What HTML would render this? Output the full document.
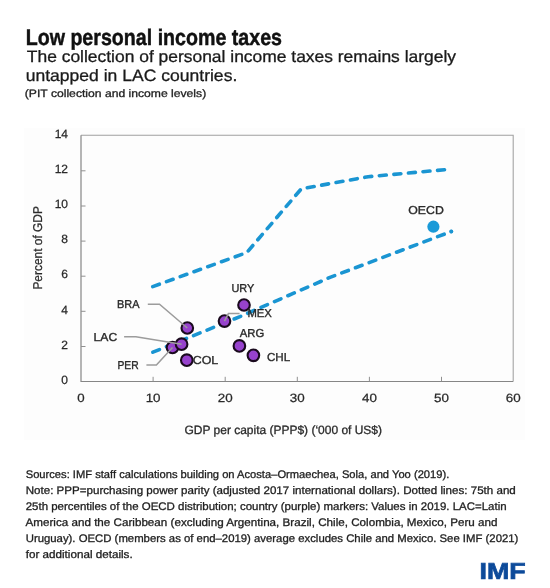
<!DOCTYPE html>
<html><head><meta charset="utf-8">
<style>
html,body{margin:0;padding:0;background:#fff;width:550px;height:588px;overflow:hidden}
svg{display:block;will-change:transform}
text{font-family:"Liberation Sans",sans-serif;text-rendering:geometricPrecision}
</style></head>
<body>
<svg width="550" height="588" viewBox="0 0 550 588">
<rect x="0" y="0" width="550" height="588" fill="#fff"/>
<rect x="24" y="128" width="501" height="312" fill="#fdfdfd"/>
<!-- titles -->
<text x="25.7" y="44.5" font-size="22.6" font-weight="bold" fill="#111" stroke="#111" stroke-width="0.45" textLength="256.3" lengthAdjust="spacingAndGlyphs">Low personal income taxes</text>
<text x="26.8" y="62.1" font-size="16.5" fill="#1a1a1a" stroke="#1a1a1a" stroke-width="0.3" textLength="429.2" lengthAdjust="spacingAndGlyphs">The collection of personal income taxes remains largely</text>
<text x="25.7" y="80.7" font-size="16.5" fill="#1a1a1a" stroke="#1a1a1a" stroke-width="0.3" textLength="211.6" lengthAdjust="spacingAndGlyphs">untapped in LAC countries.</text>
<text x="24.8" y="97.4" font-size="10.8" fill="#222" stroke="#222" stroke-width="0.3" textLength="181.4" lengthAdjust="spacingAndGlyphs">(PIT collection and income levels)</text>

<!-- plot box -->
<path d="M81,135.3 H513.2 V381.5" fill="none" stroke="#a0a0a0" stroke-width="1.05"/>
<path d="M81,135.3 V381.5 H513.2" fill="none" stroke="#868686" stroke-width="1.2"/>
<g stroke="#909090" stroke-width="1">
<line x1="81" y1="170.8" x2="85.5" y2="170.8"/>
<line x1="81" y1="206" x2="85.5" y2="206"/>
<line x1="81" y1="241.1" x2="85.5" y2="241.1"/>
<line x1="81" y1="276.2" x2="85.5" y2="276.2"/>
<line x1="81" y1="311.3" x2="85.5" y2="311.3"/>
<line x1="81" y1="346.5" x2="85.5" y2="346.5"/>
<line x1="153.1" y1="381.3" x2="153.1" y2="376.8"/>
<line x1="225.2" y1="381.3" x2="225.2" y2="376.8"/>
<line x1="297.3" y1="381.3" x2="297.3" y2="376.8"/>
<line x1="369.4" y1="381.3" x2="369.4" y2="376.8"/>
<line x1="441.5" y1="381.3" x2="441.5" y2="376.8"/>
</g>
<g font-size="12" fill="#2a2a2a" stroke="#2a2a2a" stroke-width="0.25" text-anchor="end">
<text x="68" y="137.9">14</text>
<text x="68" y="173.0">12</text>
<text x="68" y="208.2">10</text>
<text x="68" y="243.3">8</text>
<text x="68" y="278.4">6</text>
<text x="68" y="313.5">4</text>
<text x="68" y="348.7">2</text>
<text x="68" y="383.9">0</text>
</g>
<g font-size="12" fill="#2a2a2a" stroke="#2a2a2a" stroke-width="0.25" text-anchor="middle">
<text x="81" y="401.6" textLength="7.4" lengthAdjust="spacingAndGlyphs">0</text>
<text x="153.1" y="401.6" textLength="14.9" lengthAdjust="spacingAndGlyphs">10</text>
<text x="225.2" y="401.6" textLength="14.9" lengthAdjust="spacingAndGlyphs">20</text>
<text x="297.3" y="401.6" textLength="14.9" lengthAdjust="spacingAndGlyphs">30</text>
<text x="369.4" y="401.6" textLength="14.9" lengthAdjust="spacingAndGlyphs">40</text>
<text x="441.5" y="401.6" textLength="14.9" lengthAdjust="spacingAndGlyphs">50</text>
<text x="513.3" y="401.6" textLength="14.9" lengthAdjust="spacingAndGlyphs">60</text>
</g>
<text x="184.5" y="434" font-size="12" fill="#2a2a2a" stroke="#2a2a2a" stroke-width="0.3" textLength="197.5" lengthAdjust="spacingAndGlyphs">GDP per capita (PPP$) (‘000 of US$)</text>
<text transform="translate(42.2,289.6) rotate(-90)" x="0" y="0" font-size="12.8" fill="#2a2a2a" stroke="#2a2a2a" stroke-width="0.25" textLength="83.5" lengthAdjust="spacingAndGlyphs">Percent of GDP</text>

<!-- dashed lines -->
<g fill="none" stroke="#1a95d2" stroke-width="3.6" stroke-linecap="round" stroke-linejoin="round">
<polyline stroke-dasharray="7 7.615" points="152.75,286.6 246.8,252.6 301.3,188.8 368.2,176.7 444.5,169.7"/>
<polyline stroke-dasharray="7 7.634" points="152.9,352.2 240,316.6 330,277.4 451.3,231.5"/>
</g>
<circle cx="451.3" cy="231.5" r="1.95" fill="#1a95d2"/>

<!-- dots -->
<g fill="#9742cd" stroke="#1a0a1e" stroke-width="2.1">
<circle cx="172.5" cy="347.5" r="5.8"/>
<circle cx="181.6" cy="344.2" r="5.8"/>
<circle cx="187.3" cy="328" r="5.8"/>
<circle cx="186.8" cy="360.2" r="5.8"/>
<circle cx="224.5" cy="321.1" r="5.8"/>
<circle cx="244" cy="305" r="5.8"/>
<circle cx="239.4" cy="345.9" r="5.8"/>
<circle cx="253.4" cy="355.3" r="5.8"/>
</g>
<circle cx="433.4" cy="226.7" r="6.1" fill="#1a9ad8"/>

<!-- leader lines -->
<g fill="none" stroke="#9c9c9c" stroke-width="1.5">
<polyline points="147.8,304.3 159.5,304.3 187.3,328"/>
<polyline points="124.1,336.7 135.9,336.7 181.6,344.2"/>
<polyline points="146.4,365 156.4,365 172.5,347.5"/>
<polyline points="239.6,313.6 228.4,313.6 224.5,321.1"/>
</g>

<!-- labels -->
<g font-size="11.5" fill="#2a2a2a" stroke="#2a2a2a" stroke-width="0.35">
<text x="117" y="308.1" textLength="22.5" lengthAdjust="spacingAndGlyphs">BRA</text>
<text x="93.6" y="340.6" textLength="23.6" lengthAdjust="spacingAndGlyphs">LAC</text>
<text x="117.5" y="368.5" textLength="21.2" lengthAdjust="spacingAndGlyphs">PER</text>
<text x="192.7" y="363.7" textLength="25.5" lengthAdjust="spacingAndGlyphs">COL</text>
<text x="231.5" y="292.3" textLength="22.8" lengthAdjust="spacingAndGlyphs">URY</text>
<text x="247.4" y="317.2" textLength="24.5" lengthAdjust="spacingAndGlyphs">MEX</text>
<text x="239.8" y="336.8" textLength="24.5" lengthAdjust="spacingAndGlyphs">ARG</text>
<text x="267" y="360.9" textLength="23.2" lengthAdjust="spacingAndGlyphs">CHL</text>
<text x="408.3" y="213.6" textLength="35.5" lengthAdjust="spacingAndGlyphs">OECD</text>
</g>

<!-- notes -->
<g font-size="11" fill="#1e1e1e" stroke="#1e1e1e" stroke-width="0.3">
<text x="25.7" y="478.3" textLength="423.6" lengthAdjust="spacingAndGlyphs">Sources: IMF staff calculations building on Acosta–Ormaechea, Sola, and Yoo (2019).</text>
<text x="25.7" y="494.3" textLength="490.1" lengthAdjust="spacingAndGlyphs">Note: PPP=purchasing power parity (adjusted 2017 international dollars). Dotted lines: 75th and</text>
<text x="25.7" y="510.2" textLength="480.9" lengthAdjust="spacingAndGlyphs">25th percentiles of the OECD distribution; country (purple) markers: Values in 2019. LAC=Latin</text>
<text x="25.5" y="526.3" textLength="472.0" lengthAdjust="spacingAndGlyphs">America and the Caribbean (excluding Argentina, Brazil, Chile, Colombia, Mexico, Peru and</text>
<text x="25.7" y="542.3" textLength="492.7" lengthAdjust="spacingAndGlyphs">Uruguay). OECD (members as of end–2019) average excludes Chile and Mexico. See IMF (2021)</text>
<text x="25.7" y="557.6" textLength="107.0" lengthAdjust="spacingAndGlyphs">for additional details.</text>
</g>

<text x="479.5" y="578.5" font-size="23" font-weight="bold" fill="#0c4a9a" stroke="#0c4a9a" stroke-width="0.7" textLength="46.2" lengthAdjust="spacingAndGlyphs">IMF</text>
</svg>
</body></html>
